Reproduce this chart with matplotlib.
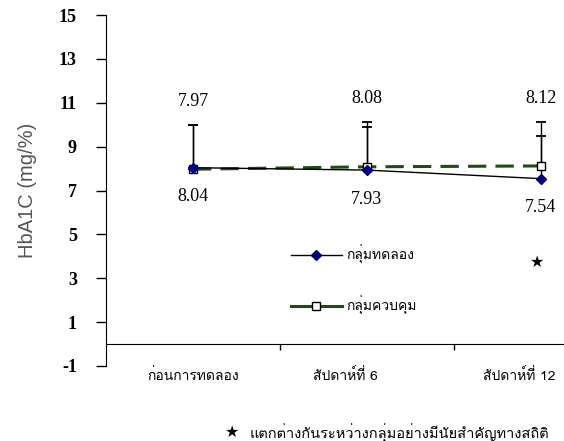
import matplotlib
matplotlib.use("Agg")
import matplotlib.pyplot as plt
import matplotlib.transforms as mtransforms
from matplotlib import font_manager
from matplotlib.ft2font import FT2Font
from matplotlib.lines import Line2D

# data
categories = ["ก่อนการทดลอง", "สัปดาห์ที่ 6", "สัปดาห์ที่ 12"]
exp_mean = [8.04, 7.93, 7.54]      # กลุ่มทดลอง
exp_sd = [1.96, 1.97, 1.96]
ctl_mean = [7.97, 8.08, 8.12]      # กลุ่มควบคุม
ctl_sd = [2.03, 2.02, 1.98]
yticks = [-1, 1, 3, 5, 7, 9, 11, 13, 15]
sig_index = 2  # week 12 marked with a star


def find_thai_font():
    for f in font_manager.fontManager.ttflist:
        try:
            ft = FT2Font(f.fname)
            if ft.get_char_index(ord("ก")):
                return f.name
        except Exception:
            pass
    return "DejaVu Sans"


thai = find_thai_font()
serif = "Liberation Serif"

fig = plt.figure(figsize=(5.64, 4.41), dpi=100)
ax = fig.add_axes([106 / 564, 75 / 441, 522 / 564, 351 / 441])

x = list(range(len(categories)))
green = "#1e4d14"
navy = "#00007a"

# error bars (upper only)
ax.errorbar(x, exp_mean, yerr=[[0] * 3, exp_sd], fmt="none", ecolor="black",
            elinewidth=1, capsize=3.8, capthick=1.3, zorder=2)
ax.errorbar(x, ctl_mean, yerr=[[0] * 3, ctl_sd], fmt="none", ecolor="black",
            elinewidth=1, capsize=3.8, capthick=1.3, zorder=2)

ax.plot(x, exp_mean, color="black", lw=1, marker="D", ms=5,
        mfc=navy, mec=navy, zorder=4)
ax.plot(x, ctl_mean, color=green, lw=2.2, ls=(0, (6, 3)), marker="s", ms=6,
        mfc="white", mec="black", mew=1, zorder=3)

# value labels
for i in x:
    top = max(exp_mean[i] + exp_sd[i], ctl_mean[i] + ctl_sd[i])
    ax.annotate(f"{ctl_mean[i]:.2f}", (i, top), xytext=(0, 17),
                textcoords="offset points", ha="center", va="center",
                fontsize=13, family=serif)
    ax.annotate(f"{exp_mean[i]:.2f}", (i, exp_mean[i]), xytext=(0, -21),
                textcoords="offset points", ha="center", va="center",
                fontsize=13, family=serif)

ax.text(sig_index - 0.02, 3.7, "★", ha="center", va="center", fontsize=11.5,
        family="DejaVu Sans")

# axes styling
ax.set_xlim(-0.5, 2.5)
ax.set_ylim(-1, 15)
ax.spines["top"].set_visible(False)
ax.spines["right"].set_visible(False)
ax.spines["bottom"].set_position(("data", 0))
ax.set_yticks(yticks)
ax.set_yticklabels([str(v) for v in yticks], fontsize=13, fontweight="bold",
                   family=serif)
ax.tick_params(axis="y", direction="out", length=7, width=1, pad=14)
ax.set_xticks(x)
ax.set_xticklabels(categories, fontsize=10, family=thai)
ax.tick_params(axis="x", which="major", length=0, pad=17)
ax.set_xticks([0.5, 1.5], minor=True)
ax.tick_params(axis="x", which="minor", direction="out", length=4, width=1)
# the later labels sit a little left of their category centres
for lbl, dx in zip(ax.get_xticklabels(), [0, -22, -22]):
    lbl.set_transform(lbl.get_transform() +
                      mtransforms.ScaledTranslation(dx / 100, 0, fig.dpi_scale_trans))
ax.set_ylabel("HbA1C (mg/%)", fontsize=14.5, color="#555555",
              family="Liberation Sans", labelpad=16)

handles = [
    Line2D([], [], color="black", lw=1, marker="D", ms=5,
           mfc=navy, mec=navy),
    Line2D([], [], color=green, lw=2.2, marker="s", ms=6,
           mfc="white", mec="black"),
]
fig.legend(handles, ["กลุ่มทดลอง", "กลุ่มควบคุม"], loc="upper left",
           bbox_to_anchor=(278 / 564, 1 - 232 / 441), frameon=False,
           prop={"family": thai, "size": 10}, handlelength=3.7,
           labelspacing=2.35, handletextpad=0.3)

fig.text(232 / 564, 1 - 432 / 441, "★", ha="center", va="center",
         fontsize=11.5, family="DejaVu Sans")
fig.text(250 / 564, 1 - 433 / 441,
         "แตกต่างกันระหว่างกลุ่มอย่างมีนัยสำคัญทางสถิติ",
         ha="left", va="center", fontsize=10.5, family=thai)

fig.savefig("out.png", dpi=100)
